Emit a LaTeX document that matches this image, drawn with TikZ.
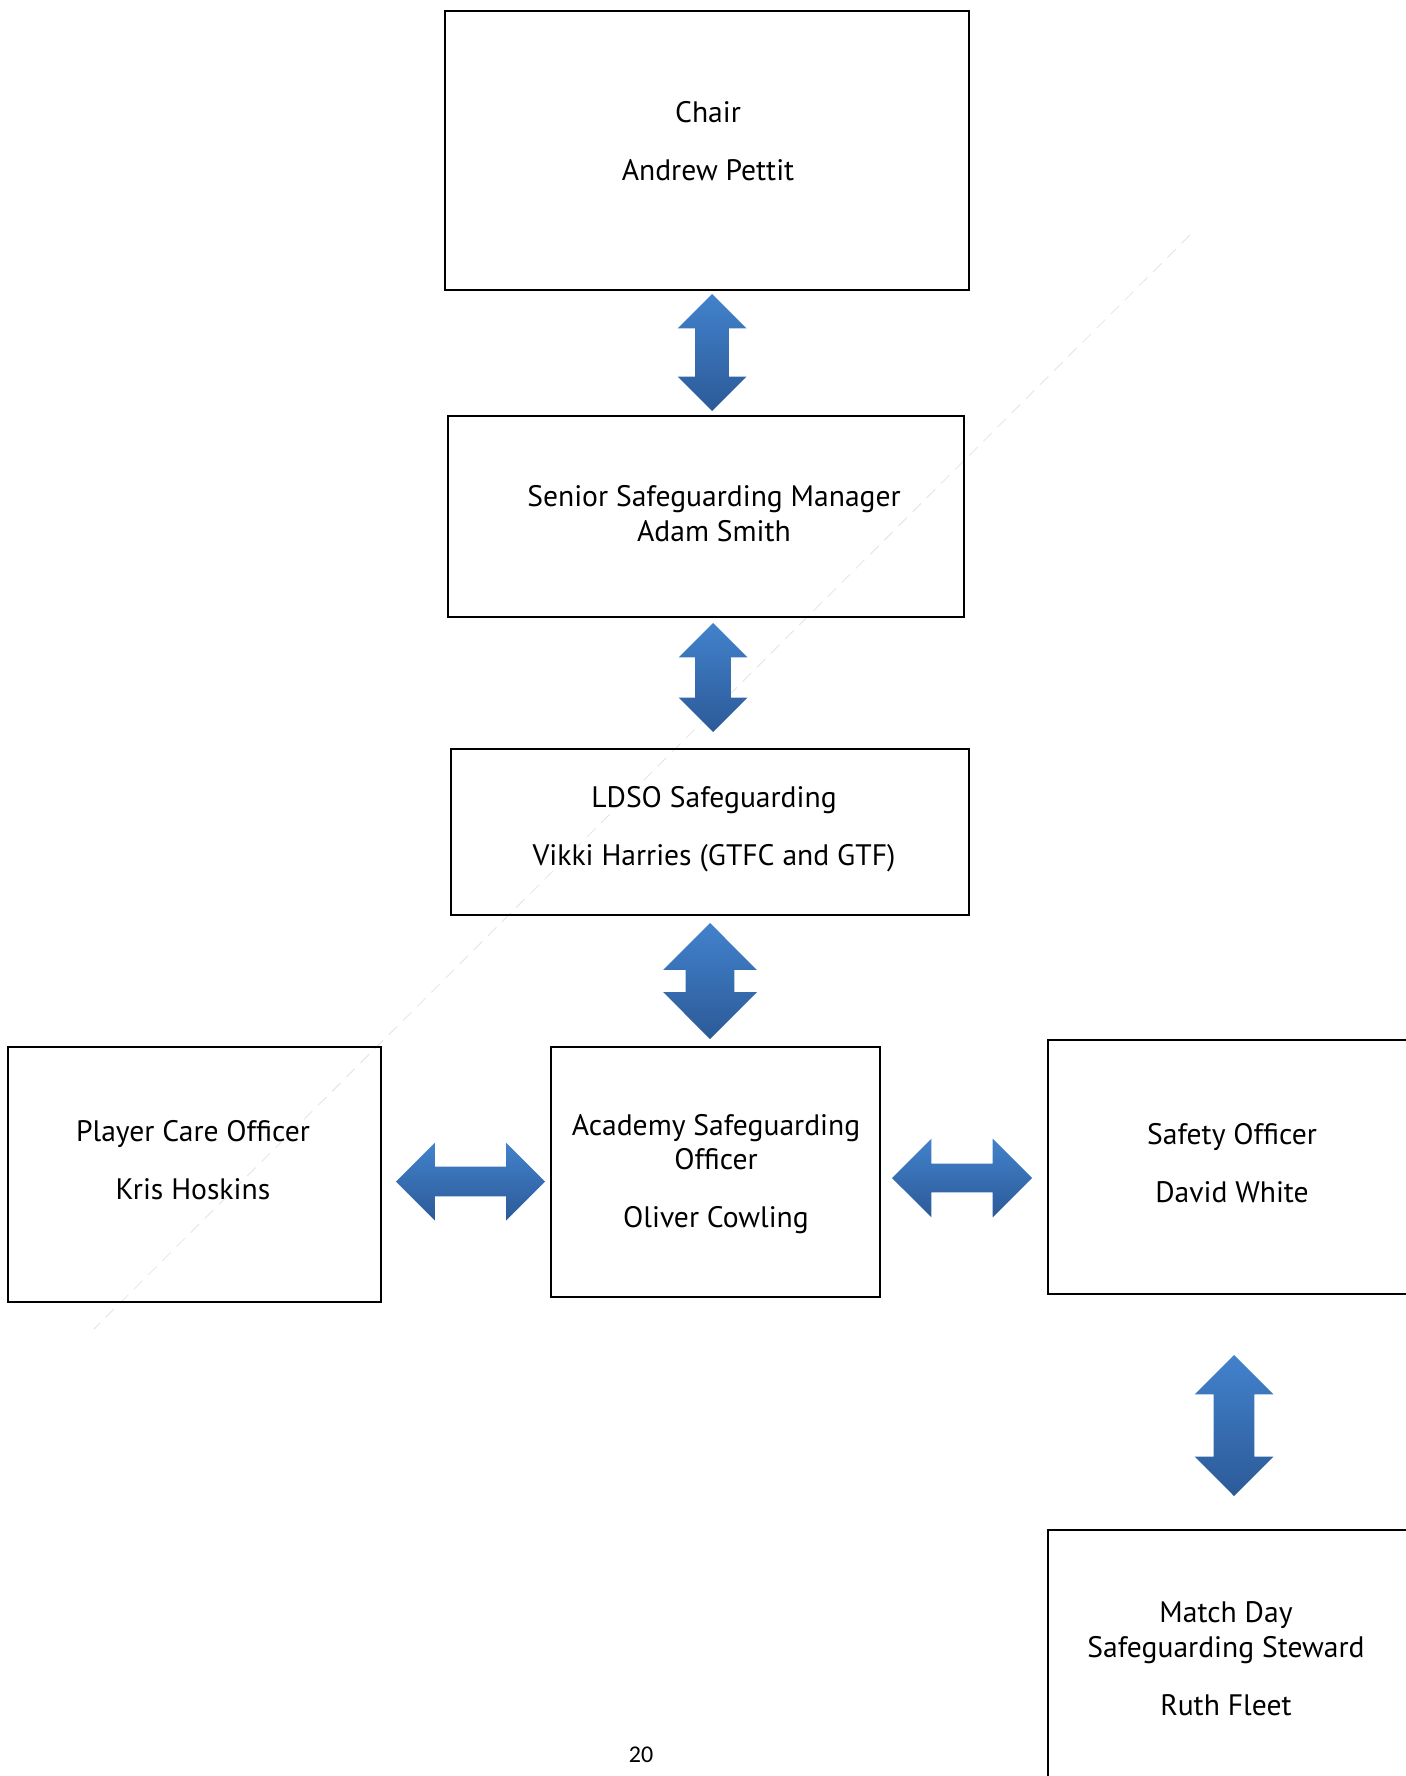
\documentclass[tikz,border=0pt]{standalone}
\usepackage{fontspec}
\setmainfont{PT Sans}
\newfontfamily\pagefont{Carlito}
\usepackage{xcolor}
\usepackage{tikz}
\usetikzlibrary{shapes}
\usetikzlibrary{shapes.arrows}
\usetikzlibrary{arrows}
\definecolor{arrowlight}{RGB}{66,130,204}
\definecolor{arrowdark}{RGB}{44,90,152}
\tikzset{
	box node/.style={rectangle,draw,line width=1pt,inner sep=0pt},
	name text/.style={align=center,font=\fontsize{14.8}{17.4}\selectfont},
	link arrow/.style={double arrow,double arrow tip angle=90,inner xsep=0pt,draw=none,
		top color=arrowlight,bottom color=arrowdark},
	up arrow/.style={double arrow,double arrow tip angle=90,inner ysep=0pt,draw=none,
		top color=arrowlight,bottom color=arrowdark,shape border rotate=90}
}

\begin{document}
\begin{tikzpicture}[x=0.5pt,y=-0.5pt]
	\useasboundingbox (0,0) rectangle (1406,1776);
	\clip (0,0) rectangle (1406,1776);
	% faint guide line
	\coordinate (g1) at (1190,235);
	\coordinate (g2) at (94,1329);
	\draw [gray!22,line width=0.4pt,dash pattern=on 6pt off 4pt] (g1) -- (g2);
	% boxes
	\node [box node,minimum width=262pt,minimum height=139.5pt] (chair) at (707,150.5) {};
	\node [box node,minimum width=258pt,minimum height=100.5pt] (senior) at (706,516.5) {};
	\node [box node,minimum width=259pt,minimum height=83pt] (ldso) at (710,832) {};
	\node [box node,minimum width=186.5pt,minimum height=127.5pt] (player) at (194.5,1174.5) {};
	\node [box node,minimum width=164.5pt,minimum height=125pt] (academy) at (715.5,1172) {};
	\node [box node,minimum width=186pt,minimum height=127pt] (safety) at (1234,1167) {};
	\node [box node,minimum width=186pt,minimum height=150pt] (match) at (1234,1680) {};
	% texts
	\node [name text] (chair-t) at (708,141.5) {Chair\\[11.5pt]Andrew Pettit};
	\node [name text] (senior-t) at (714,514) {Senior Safeguarding Manager\\Adam Smith};
	\node [name text] (ldso-t) at (714,829.5) {LDSO Safeguarding\\[11.5pt]Vikki Harries (GTFC and GTF)};
	\node [name text] (player-t) at (193,1160.5) {Player Care Officer\\[11.5pt]Kris Hoskins};
	\node [name text] (academy-t) at (716,1174) {Academy Safeguarding\\Officer\\[11.5pt]Oliver Cowling};
	\node [name text] (safety-t) at (1232,1163) {Safety Officer\\[11.5pt]David White};
	\node [name text] (match-t) at (1226,1658.5) {Match Day\\Safeguarding Steward\\[11.5pt]Ruth Fleet};
	% arrows
	\node [up arrow,minimum height=58.5pt,inner xsep=8.25pt,double arrow head extend=8.75pt] (a1) at (712,352.5) {};
	\node [up arrow,minimum height=54.5pt,inner xsep=8.75pt,double arrow head extend=8.25pt] (a2) at (713,677.5) {};
	\node [up arrow,minimum height=58pt,inner xsep=12pt,double arrow head extend=11.25pt] (a3) at (710,981) {};
	\node [link arrow,minimum height=74.5pt,inner ysep=7.25pt,double arrow head extend=12pt] (a4) at (470.5,1181.5) {};
	\node [link arrow,minimum height=70pt,inner ysep=7pt,double arrow head extend=12.5pt] (a5) at (962,1178) {};
	\node [up arrow,minimum height=70.5pt,inner xsep=10pt,double arrow head extend=9.5pt] (a6) at (1234,1425.5) {};
	% page number
	\node [font=\pagefont\fontsize{12}{14}\selectfont] (page) at (641,1755) {20};
\end{tikzpicture}
\end{document}
